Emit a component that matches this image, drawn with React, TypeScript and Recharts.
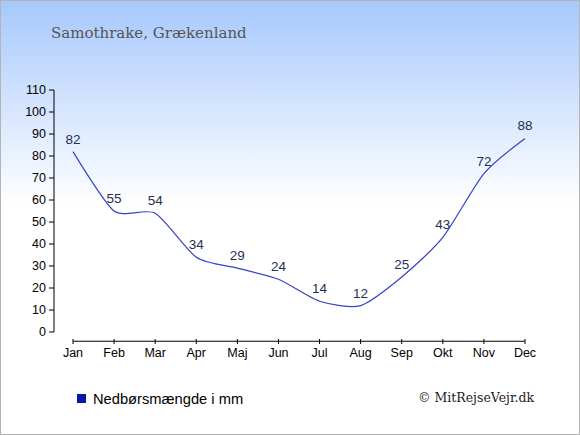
import React from 'react';
import { LineChart, Line, XAxis, YAxis, LabelList, ReferenceLine } from 'recharts';

const months = ['Jan', 'Feb', 'Mar', 'Apr', 'Maj', 'Jun', 'Jul', 'Aug', 'Sep', 'Okt', 'Nov', 'Dec'];
const precipitation = [82, 55, 54, 34, 29, 24, 14, 12, 25, 43, 72, 88];
const yTicks = [0, 10, 20, 30, 40, 50, 60, 70, 80, 90, 100, 110];
const title = 'Samothrake, Grækenland';
const seriesName = 'Nedbørsmængde i mm';
const credit = '© MitRejseVejr.dk';

const data = months.map((m, i) => ({ month: m, value: precipitation[i] }));

const SANS = '"Liberation Sans", Arial, sans-serif';
const SERIF = '"DejaVu Serif", Georgia, serif';
const AXIS_OFFSET_VALUE = -4.2;

// Cardinal spline (like d3.curveCardinal) built by hand
function makeCardinal(tension: number) {
  const k = (1 - tension) / 6;
  return (context: any) => {
    let x0 = NaN, x1 = NaN, x2 = NaN, y0 = NaN, y1 = NaN, y2 = NaN;
    let pt = 0;
    let line: number = NaN;
    const seg = (x: number, y: number) =>
      context.bezierCurveTo(
        x1 + k * (x2 - x0),
        y1 + k * (y2 - y0),
        x2 + k * (x1 - x),
        y2 + k * (y1 - y),
        x2,
        y2
      );
    return {
      areaStart() { line = 0; },
      areaEnd() { line = NaN; },
      lineStart() { x0 = x1 = x2 = y0 = y1 = y2 = NaN; pt = 0; },
      lineEnd() {
        if (pt === 2) context.lineTo(x2, y2);
        else if (pt === 3) seg(x1, y1);
        if (line || (line !== 0 && pt === 1)) context.closePath();
        line = 1 - line;
      },
      point(x: number, y: number) {
        x = +x; y = +y;
        switch (pt) {
          case 0: pt = 1; if (line) context.lineTo(x, y); else context.moveTo(x, y); break;
          case 1: pt = 2; x1 = x; y1 = y; break;
          case 2: pt = 3; seg(x, y); break;
          default: seg(x, y); break;
        }
        x0 = x1; x1 = x2; x2 = x;
        y0 = y1; y1 = y2; y2 = y;
      },
    };
  };
}

const curve = makeCardinal(0.3);

const XTick = (props: any) => {
  const { x, y, payload } = props;
  return (
    <g>
      <line x1={x} x2={x} y1={y - 2} y2={y + 3} stroke="#000" strokeWidth={1} />
      <text x={x} y={y + 16} textAnchor="middle" fontSize={12.5} fontFamily={SANS} fill="#000">
        {payload.value}
      </text>
    </g>
  );
};

export default function App() {
  return (
    <div style={{ position: 'absolute', left: 0, top: 0, width: 580, height: 435 }}>
      <div
        style={{
          position: 'absolute', left: 0, top: 0, width: 580, height: 435,
          background: 'linear-gradient(to bottom, #a6c8fd 0%, #ffffff 47%, #ffffff 100%)',
        }}
      />
      <div style={{ position: 'absolute', left: 0, top: 0 }}>
        <LineChart width={580} height={435} data={data} margin={{ top: 90, right: 36, left: 14, bottom: 73 }}>
          <XAxis
            dataKey="month"
            padding={{ left: 19, right: 19 }}
            axisLine={false}
            tickLine={false}
            tickSize={0}
            tickMargin={9}
            height={30}
            interval={0}
            tick={<XTick />}
          />
          <YAxis
            domain={[0, 110]}
            ticks={yTicks}
            interval={0}
            width={40}
            tickSize={5}
            tickMargin={3}
            axisLine={{ stroke: '#000', strokeWidth: 1 }}
            tickLine={{ stroke: '#000', strokeWidth: 1 }}
            tick={{ fontSize: 12.5, fontFamily: SANS, fill: '#000' }}
            allowDataOverflow
          />
          <ReferenceLine
            segment={[{ x: months[0], y: AXIS_OFFSET_VALUE }, { x: months[months.length - 1], y: AXIS_OFFSET_VALUE }]}
            stroke="#000"
            strokeWidth={1}
            ifOverflow="visible"
          />
          <Line
            type={curve as any}
            dataKey="value"
            name={seriesName}
            stroke="#3442c8"
            strokeWidth={1.2}
            dot={false}
            activeDot={false}
            isAnimationActive={false}
          >
            <LabelList
              dataKey="value"
              position="top"
              offset={8}
              fontSize={13.5}
              fontFamily={SANS}
              fill="#1f2f55"
            />
          </Line>
        </LineChart>
      </div>
      <svg
        width={580}
        height={435}
        style={{ position: 'absolute', left: 0, top: 0, pointerEvents: 'none' }}
      >
        <text x={51} y={38} fontSize={15} fontFamily={SERIF} fill="#555555">{title}</text>
        <rect x={77} y={394} width={9} height={9} fill="#0a18a8" />
        <text x={93} y={403.5} fontSize={14.7} fontFamily={SANS} fill="#000">{seriesName}</text>
        <text x={418} y={401.5} fontSize={12.5} fontFamily={SERIF} fill="#222">{credit}</text>
        <rect x={0.5} y={0.5} width={579} height={434} fill="none" stroke="#b4b4b4" strokeWidth={1} />
      </svg>
    </div>
  );
}
